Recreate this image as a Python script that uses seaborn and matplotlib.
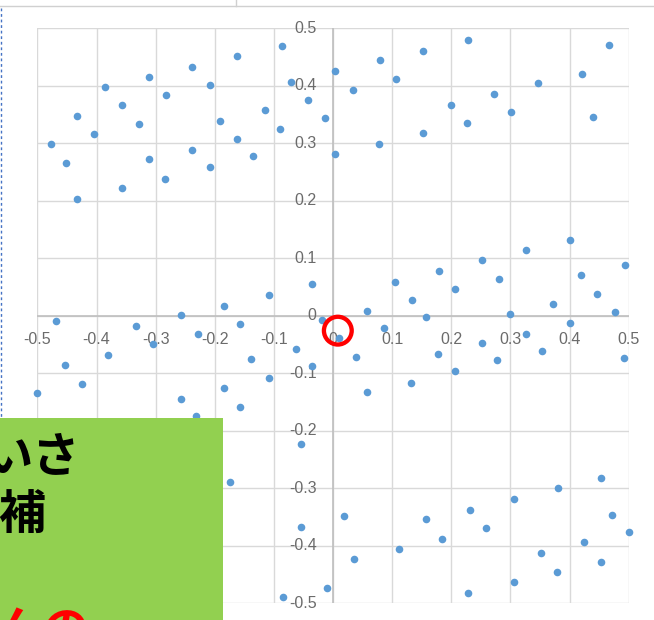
import pandas as pd
import seaborn as sns
import matplotlib.pyplot as plt
from matplotlib.patches import Rectangle
from matplotlib.lines import Line2D

# values
upper_x = [-0.477, -0.452, -0.433, -0.433, -0.404, -0.385, -0.357, -0.357, -0.329, -0.311,
           -0.311, -0.282, -0.284, -0.238, -0.238, -0.209, -0.209, -0.191, -0.162, -0.162,
           -0.136, -0.116, -0.087, -0.089, -0.071, -0.042, -0.014, 0.004, 0.004, 0.033,
           0.079, 0.078, 0.106, 0.152, 0.152, 0.199, 0.226, 0.229, 0.272, 0.301,
           0.347, 0.421, 0.439, 0.467]
upper_y = [0.298, 0.266, 0.348, 0.203, 0.316, 0.398, 0.366, 0.222, 0.333, 0.415,
           0.272, 0.383, 0.238, 0.433, 0.289, 0.402, 0.258, 0.339, 0.452, 0.308,
           0.277, 0.358, 0.469, 0.325, 0.406, 0.375, 0.343, 0.425, 0.281, 0.393,
           0.444, 0.299, 0.412, 0.461, 0.318, 0.366, 0.335, 0.479, 0.385, 0.354,
           0.404, 0.421, 0.346, 0.471]

middle_x = [-0.035, -0.109, -0.185, -0.258, 0.057, 0.104, 0.133, 0.179, 0.206, 0.252,
            0.281, 0.327, 0.372, 0.401, 0.419, 0.447, 0.476, 0.494, 0.299,
            -0.469, -0.334, -0.157, -0.229, -0.305, -0.380, -0.138, -0.063, -0.018, 0.010,
            0.039, 0.086, 0.158, 0.177, 0.252, 0.278, 0.326, 0.354, 0.401, 0.492,
            -0.454, -0.500, -0.424, -0.258, -0.232, -0.185, -0.157, -0.109, -0.036, -0.055,
            -0.175, 0.057, 0.131, 0.206]
middle_y = [0.055, 0.036, 0.017, 0.001, 0.009, 0.059, 0.028, 0.078, 0.046, 0.097,
            0.063, 0.114, 0.020, 0.132, 0.070, 0.038, 0.007, 0.089, 0.003,
            -0.009, -0.018, -0.014, -0.031, -0.050, -0.068, -0.076, -0.058, -0.008, -0.038,
            -0.071, -0.022, -0.003, -0.066, -0.047, -0.077, -0.031, -0.061, -0.012, -0.073,
            -0.085, -0.135, -0.118, -0.144, -0.174, -0.125, -0.158, -0.108, -0.088, -0.223,
            -0.290, -0.133, -0.117, -0.097]

lower_x = [-0.055, -0.085, -0.010, 0.018, 0.035, 0.111, 0.157, 0.185, 0.231, 0.229,
           0.258, 0.306, 0.306, 0.352, 0.378, 0.380, 0.425, 0.453, 0.453, 0.471, 0.500]
lower_y = [-0.367, -0.490, -0.474, -0.348, -0.424, -0.405, -0.354, -0.388, -0.338, -0.482,
           -0.369, -0.319, -0.463, -0.413, -0.445, -0.300, -0.394, -0.283, -0.428, -0.347, -0.377]

highlight_x = [0.008]
highlight_y = [-0.026]

ticks = [-0.5, -0.4, -0.3, -0.2, -0.1, 0.0, 0.1, 0.2, 0.3, 0.4, 0.5]
tick_labels = ["-0.5", "-0.4", "-0.3", "-0.2", "-0.1", "0", "0.1", "0.2", "0.3", "0.4", "0.5"]

df = pd.DataFrame({"x": upper_x + middle_x + lower_x,
                   "y": upper_y + middle_y + lower_y})

fig = plt.figure(figsize=(6.54, 6.20), dpi=100)
ax = fig.add_axes([0.0573, 0.0271, 0.904, 0.9274])

grid_col = "#d9d9d9"
for t in ticks:
    ax.axvline(t, color=grid_col, lw=1, zorder=0)
    ax.axhline(t, color=grid_col, lw=1, zorder=0)
ax.axvline(0, color="#bfbfbf", lw=1.2, zorder=1)
ax.axhline(0, color="#bfbfbf", lw=1.2, zorder=1)

sns.scatterplot(data=df, x="x", y="y", ax=ax, color="#5b9bd5", s=30,
                linewidth=0, zorder=3, clip_on=False, legend=False)

# red highlight circle
ax.scatter(highlight_x, highlight_y, s=400, facecolors="none", edgecolors="#ff0000",
           linewidths=3.1, zorder=4)

ax.set_xlim(-0.5, 0.5)
ax.set_ylim(-0.5, 0.5)
ax.set_xticks([])
ax.set_yticks([])
ax.set_xlabel("")
ax.set_ylabel("")
for s in ax.spines.values():
    s.set_visible(False)

lab = dict(fontsize=11.5, color="#6b6b6b", family="Liberation Sans", zorder=2)
for t, l in zip(ticks, tick_labels):
    ax.text(t, -0.041, l, ha="center", va="center", **lab)
    ax.text(-0.028, t, l, ha="right", va="center", **lab)

# screenshot frame bits
fig.add_artist(Line2D([0, 1], [1 - 6 / 620, 1 - 6 / 620], color="#d0d0d0", lw=1,
                      transform=fig.transFigure))
fig.add_artist(Line2D([236 / 654, 236 / 654], [1, 1 - 6 / 620], color="#d0d0d0", lw=1,
                      transform=fig.transFigure))
fig.add_artist(Line2D([1 / 654, 1 / 654], [1 - 8 / 620, 1 - 418 / 620], color="#4472c4",
                      lw=1, ls=(0, (2, 2)), transform=fig.transFigure))

# green overlay box with cut-off Japanese text
fig.add_artist(Rectangle((0, 0), 223 / 654, 202 / 620, transform=fig.transFigure,
                         facecolor="#92d050", edgecolor="none", zorder=10))
jp = ["Noto Sans CJK JP", "DejaVu Sans"]
fig.text(-14 / 654, 0.262, "いさ", fontsize=34, fontweight="bold", family=jp,
         color="black", ha="left", va="center", zorder=11)
fig.text(-2 / 654, 0.168, "補", fontsize=34, fontweight="bold", family=jp,
         color="black", ha="left", va="center", zorder=11)
fig.text(-5 / 654, 13 / 620, "んの", fontsize=34, fontweight="bold", family=jp,
         color="#ff0000", ha="left", va="top", zorder=11)

fig.savefig("out.png", dpi=100)
